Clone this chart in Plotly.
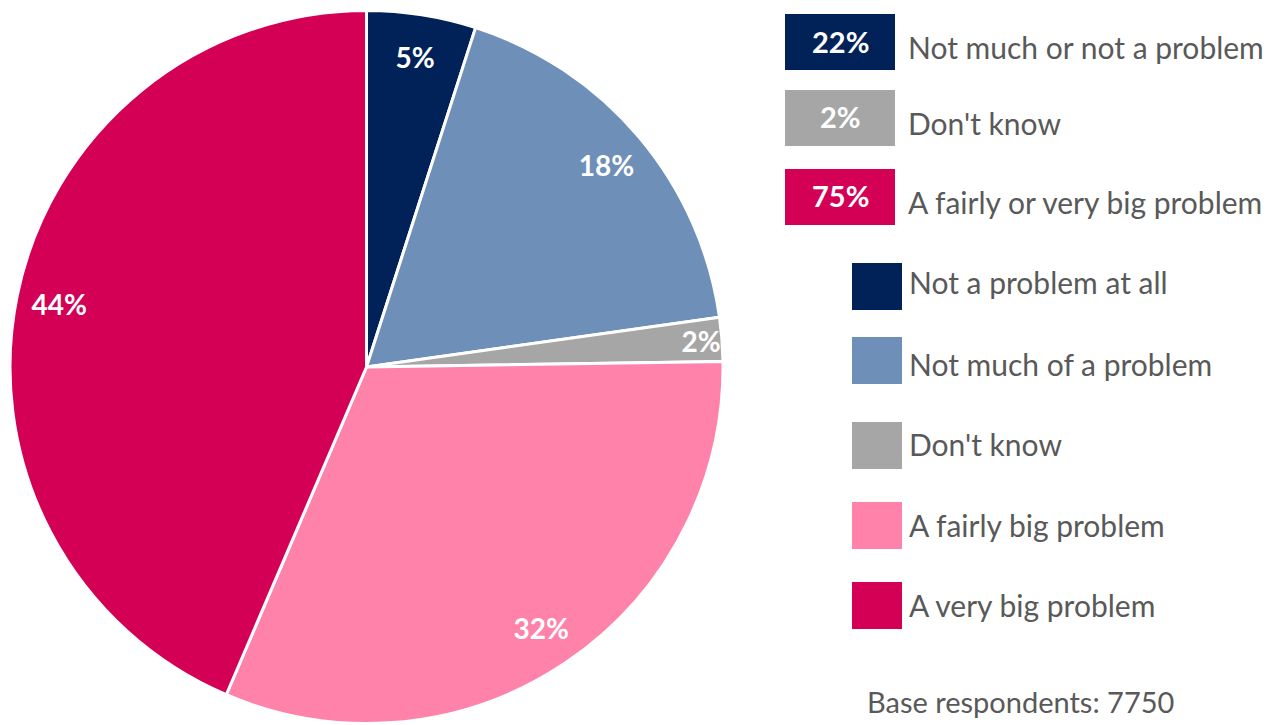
import plotly.graph_objects as go

# Slice categories and shares (%), clockwise from 12 o'clock
categories = ["Not a problem at all", "Not much of a problem", "Don't know",
              "A fairly big problem", "A very big problem"]
shares = [5, 18, 2, 32, 44]
slice_colors = ["#012259", "#6E8FB8", "#A6A6A6", "#FF82AB", "#D40055"]

# Net summary boxes
net_labels = ["Not much or not a problem", "Don't know", "A fairly or very big problem"]
net_values = [22, 2, 75]
net_colors = ["#012259", "#A6A6A6", "#D40055"]

base_note = "Base respondents: 7750"

W, H = 1276, 725
FONT = "Lato"
TEXT_GREY = "#595959"
PIE_DOMAIN = dict(x=[10 / W, 723 / W], y=[1 - 724 / H, 1 - 10 / H])

fig = go.Figure()
# Solid pie
fig.add_trace(go.Pie(
    labels=categories,
    values=shares,
    sort=False,
    direction="clockwise",
    rotation=0,
    marker=dict(colors=slice_colors, line=dict(color="white", width=3)),
    textinfo="none",
    domain=PIE_DOMAIN,
    showlegend=False,
    hoverinfo="label+value",
))
# Transparent ring carrying the value labels near the outer edge
fig.add_trace(go.Pie(
    labels=categories,
    values=shares,
    sort=False,
    direction="clockwise",
    rotation=0,
    hole=0.76,
    marker=dict(colors=["rgba(0,0,0,0)"] * len(shares), line=dict(width=0)),
    texttemplate="%{value}%",
    textposition="inside",
    insidetextorientation="horizontal",
    textfont=dict(family=FONT, size=28, color="white", weight="bold"),
    domain=PIE_DOMAIN,
    showlegend=False,
    hoverinfo="skip",
))

def px_x(v):
    return v / W

def px_y(v):
    return 1 - v / H

shapes = []
annotations = []

# Net summary boxes with their value inside
net_tops = [14, 90, 169]
for top, lab, val, col in zip(net_tops, net_labels, net_values, net_colors):
    shapes.append(dict(type="rect", xref="paper", yref="paper",
                       x0=px_x(785), x1=px_x(895), y0=px_y(top + 56), y1=px_y(top),
                       fillcolor=col, line=dict(width=0)))
    annotations.append(dict(xref="paper", yref="paper", x=px_x(840), y=px_y(top + 27),
                            text=f"{val}%", showarrow=False, xanchor="center", yanchor="middle",
                            font=dict(family=FONT, size=29, color="white", weight="bold")))
    annotations.append(dict(xref="paper", yref="paper", x=px_x(906), y=px_y(top + 33),
                            text=lab, showarrow=False, xanchor="left", yanchor="middle",
                            font=dict(family=FONT, size=30, color=TEXT_GREY)))

# Category key
key_tops = [263, 337, 422, 502, 582]
key_text_y = [282, 364, 444, 525, 605]
for top, ty, lab, col in zip(key_tops, key_text_y, categories, slice_colors):
    shapes.append(dict(type="rect", xref="paper", yref="paper",
                       x0=px_x(852), x1=px_x(902), y0=px_y(top + 47), y1=px_y(top),
                       fillcolor=col, line=dict(width=0)))
    annotations.append(dict(xref="paper", yref="paper", x=px_x(907), y=px_y(ty),
                            text=lab, showarrow=False, xanchor="left", yanchor="middle",
                            font=dict(family=FONT, size=30, color=TEXT_GREY)))

annotations.append(dict(xref="paper", yref="paper", x=px_x(1176), y=px_y(701),
                        text=base_note, showarrow=False, xanchor="right", yanchor="middle",
                        font=dict(family=FONT, size=29, color=TEXT_GREY)))

fig.update_layout(
    width=W, height=H,
    margin=dict(l=0, r=0, t=0, b=0),
    paper_bgcolor="white",
    plot_bgcolor="white",
    uniformtext=dict(mode="show", minsize=28),
    shapes=shapes,
    annotations=annotations,
)

fig.write_html("out.html")
